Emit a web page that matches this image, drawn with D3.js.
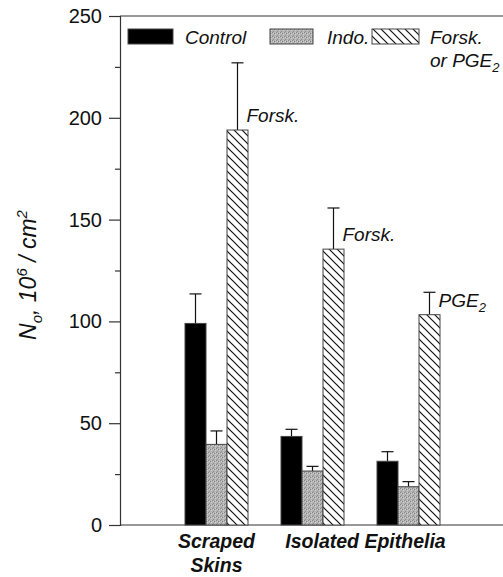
<!DOCTYPE html>
<html>
<head>
<meta charset="utf-8">
<script src="https://cdn.jsdelivr.net/npm/d3@7"></script>
<style>
  body { margin: 0; background: #fff; }
  svg { display: block; font-family: "Liberation Sans", Arial, sans-serif; }
</style>
</head>
<body>
<svg width="503" height="577"></svg>
<script>
// values (10^6 / cm^2), tops of error bars kept separately
var groups = ["Scraped Skins", "Isolated Epithelia A", "Isolated Epithelia B"];
var series = ["Control", "Indo.", "Forsk."];
var control = [99, 43.5, 31.3];
var controlTop = [113.5, 47, 36];
var indo = [39.6, 26.5, 18.8];
var indoTop = [46.2, 28.8, 21.3];
var stim = [194, 135.5, 103.3];
var stimTop = [227, 155.7, 114.3];
var stimLabels = ["Forsk.", "Forsk.", "PGE"];
var stimSub = ["", "", "2"];
var yTicks = [0, 50, 100, 150, 200, 250];
var yMinor = [25, 75, 125, 175, 225];

var svg = d3.select("svg");
var defs = svg.append("defs");

// hatch for forskolin / PGE2 bars
var hatch = defs.append("pattern").attr("id", "hatch")
  .attr("patternUnits", "userSpaceOnUse").attr("width", 8).attr("height", 8);
hatch.append("rect").attr("width", 8).attr("height", 8).attr("fill", "#fff");
hatch.append("path").attr("d", "M-1,-1L9,9M-1,7L1,9M7,-1L9,1")
  .attr("stroke", "#111").attr("stroke-width", 1.2);

// stippled grey for indomethacin
var stip = defs.append("pattern").attr("id", "stip")
  .attr("patternUnits", "userSpaceOnUse").attr("width", 4).attr("height", 4);
stip.append("rect").attr("width", 4).attr("height", 4).attr("fill", "#b2b2b2");
[[0,0,"#8a8a8a"],[2,1,"#7e7e7e"],[1,3,"#909090"],[3,2,"#d2d2d2"],[1,1,"#cfcfcf"],[3,0,"#c8c8c8"]]
  .forEach(function(p){
    stip.append("rect").attr("x", p[0]).attr("y", p[1]).attr("width", 1).attr("height", 1).attr("fill", p[2]);
  });

var fills = ["#000", "url(#stip)", "url(#hatch)"];

var y = d3.scaleLinear().domain([0, 250]).range([525, 16]);
var x0 = d3.scaleBand().domain(groups).range([168.5, 456.5])
  .paddingInner(0.34375).paddingOuter(0.171875);
var x1 = d3.scaleBand().domain(series).range([0, x0.bandwidth()]);

// frame lines
svg.append("line").attr("x1", 120).attr("x2", 503).attr("y1", y(250)).attr("y2", y(250))
  .attr("stroke", "#333").attr("stroke-width", 1.2);
svg.append("line").attr("x1", 120).attr("x2", 503).attr("y1", y(0)).attr("y2", y(0))
  .attr("stroke", "#333").attr("stroke-width", 1.2);

// y axis
var yAxis = svg.append("g").attr("transform", "translate(120,0)")
  .call(d3.axisLeft(y).tickValues(yTicks).tickSize(11).tickPadding(7));
yAxis.selectAll("text").attr("font-size", 20).attr("fill", "#111")
  .attr("font-family", "Liberation Sans, Arial, sans-serif");
svg.append("g").attr("transform", "translate(120,0)")
  .call(d3.axisLeft(y).tickValues(yMinor).tickSize(5).tickFormat(""))
  .select(".domain").remove();
svg.selectAll(".domain, .tick line").attr("stroke", "#333").attr("stroke-width", 1.2);

// y title
var yt = svg.append("text").attr("transform", "translate(36,275) rotate(-90)")
  .attr("text-anchor", "middle").attr("font-size", 23).attr("font-style", "italic").attr("fill", "#111");
yt.append("tspan").text("N");
yt.append("tspan").attr("dy", 6).attr("font-size", 15).text("o");
yt.append("tspan").attr("dy", -6).text(", 10");
yt.append("tspan").attr("dy", -9).attr("font-size", 15).text("6");
yt.append("tspan").attr("dy", 9).text(" / cm");
yt.append("tspan").attr("dy", -9).attr("font-size", 15).text("2");

// bars
var rows = groups.map(function(g, i){
  return [
    {g: g, s: series[0], v: control[i], top: controlTop[i], f: fills[0]},
    {g: g, s: series[1], v: indo[i], top: indoTop[i], f: fills[1]},
    {g: g, s: series[2], v: stim[i], top: stimTop[i], f: fills[2]}
  ];
});
var flat = [].concat.apply([], rows);

svg.append("g").selectAll("line").data(flat).enter().append("line")
  .attr("x1", function(d){ return x0(d.g) + x1(d.s) + x1.bandwidth()/2; })
  .attr("x2", function(d){ return x0(d.g) + x1(d.s) + x1.bandwidth()/2; })
  .attr("y1", function(d){ return y(d.v); })
  .attr("y2", function(d){ return y(d.top); })
  .attr("stroke", "#111").attr("stroke-width", 1.2);
svg.append("g").selectAll("line").data(flat).enter().append("line")
  .attr("x1", function(d){ return x0(d.g) + x1(d.s) + x1.bandwidth()/2 - 6; })
  .attr("x2", function(d){ return x0(d.g) + x1(d.s) + x1.bandwidth()/2 + 6; })
  .attr("y1", function(d){ return y(d.top); })
  .attr("y2", function(d){ return y(d.top); })
  .attr("stroke", "#111").attr("stroke-width", 1.2);

svg.append("g").selectAll("rect").data(flat).enter().append("rect")
  .attr("x", function(d){ return x0(d.g) + x1(d.s); })
  .attr("y", function(d){ return y(d.v); })
  .attr("width", x1.bandwidth())
  .attr("height", function(d){ return y(0) - y(d.v); })
  .attr("fill", function(d){ return d.f; })
  .attr("stroke", "#444").attr("stroke-width", 1);

// stimulus labels
groups.forEach(function(g, i){
  var t = svg.append("text")
    .attr("x", x0(g) + x1(series[2]) + x1.bandwidth()/2 + 9)
    .attr("y", y(stim[i]) - 8)
    .attr("font-size", 19).attr("font-style", "italic").attr("fill", "#111");
  t.append("tspan").text(stimLabels[i]);
  if (stimSub[i]) t.append("tspan").attr("dy", 5).attr("font-size", 13).text(stimSub[i]);
});

// category labels
var cat = svg.append("g").attr("font-size", 19.5).attr("font-weight", "bold")
  .attr("font-style", "italic").attr("text-anchor", "middle").attr("fill", "#111");
var c1 = x0(groups[0]) + x0.bandwidth()/2;
cat.append("text").attr("x", c1).attr("y", 548).text("Scraped");
cat.append("text").attr("x", c1).attr("y", 572).text("Skins");
var c2 = (x0(groups[1]) + x0(groups[2]) + x0.bandwidth())/2 + 5;
cat.append("text").attr("x", c2).attr("y", 548).text("Isolated Epithelia");

// legend
var lg = svg.append("g").attr("font-size", 19).attr("font-style", "italic").attr("fill", "#111");
var legendX = [128, 270, 372];
var legendW = [45, 43, 47];
var legendText = ["Control", "Indo.", "Forsk."];
var legendTextX = [185, 327, 430];
legendX.forEach(function(lx, i){
  lg.append("rect").attr("x", lx).attr("y", 29).attr("width", legendW[i]).attr("height", 15)
    .attr("fill", fills[i]).attr("stroke", "#444").attr("stroke-width", 1);
  lg.append("text").attr("x", legendTextX[i]).attr("y", 44).text(legendText[i]);
});
var l2 = lg.append("text").attr("x", 430).attr("y", 67);
l2.append("tspan").text("or PGE");
l2.append("tspan").attr("dy", 5).attr("font-size", 13).text("2");
</script>
</body>
</html>
